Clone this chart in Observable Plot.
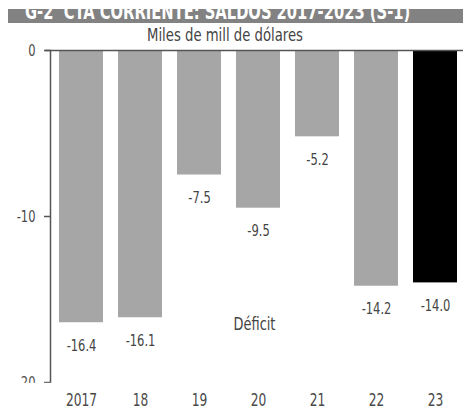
<!DOCTYPE html>
<html>
<head>
<meta charset="utf-8">
<script src="https://cdn.jsdelivr.net/npm/d3@7"></script>
<script src="https://cdn.jsdelivr.net/npm/@observablehq/plot@0.6"></script>
<style>
  html, body { margin: 0; padding: 0; background: #fff; }
  body { width: 463px; height: 410px; overflow: hidden; font-family: 'Liberation Sans Narrow', 'DejaVu Sans Condensed', sans-serif; }
  #hdr { position: relative; height: 44px; }
  #band { position: absolute; left: 8px; top: 9px; width: 455px; height: 14px; background: #828282; overflow: hidden; }
  #title { position: absolute; left: 17px; top: -7px; font-weight: bold; font-size: 21px; line-height: 21px; color: #fff; white-space: nowrap; transform-origin: 0 0; }
  #sub { position: absolute; top: 26px; font-size: 18px; line-height: 17px; color: #444; white-space: nowrap; transform-origin: 0 0; }
</style>
</head>
<body>
<div id="hdr">
  <div id="band"><span id="title">G-2&nbsp;&nbsp;CTA CORRIENTE: SALDOS 2017-2023 (S-1)</span></div>
  <div id="sub">Miles de mill de dólares</div>
</div>
<div id="chart"></div>
<script>
const years = ["2017", "18", "19", "20", "21", "22", "23"];
const values = [-16.4, -16.1, -7.5, -9.5, -5.2, -14.2, -14.0];
const valueLabels = ["-16.4", "-16.1", "-7.5", "-9.5", "-5.2", "-14.2", "-14.0"];
const yTicks = [0, -10, -20];
const highlightYear = "23";
const noteText = "Déficit";
const noteYear = "20";
const noteValue = -16.5;

const data = years.map((year, i) => ({year, value: values[i], label: valueLabels[i]}));

// fit header texts to the narrow widths of the reference
const title = document.getElementById("title");
title.style.transform = `scaleX(${385 / title.offsetWidth})`;
const sub = document.getElementById("sub");
const subScale = 156 / sub.offsetWidth;
sub.style.transform = `scaleX(${subScale})`;
sub.style.left = (225 - 78) + "px";

const chart = Plot.plot({
  width: 463,
  height: 366,
  marginLeft: 50,
  marginRight: 0,
  marginTop: 6,
  marginBottom: 28,
  style: {fontFamily: "'Liberation Sans Narrow', 'DejaVu Sans Condensed', sans-serif", color: "#4a4a4a", background: "#fff", overflow: "visible"},
  x: {domain: years, range: [50, 467], paddingInner: 0.246, paddingOuter: 0.117, align: 0.5},
  y: {domain: [-20, 0]},
  color: {type: "identity"},
  marks: [
    Plot.barY(data, {x: "year", y: "value", fill: d => d.year === highlightYear ? "#000000" : "#a6a6a6"}),
    Plot.ruleY([0], {stroke: "#555", strokeWidth: 1.5, insetLeft: -5}),
    Plot.frame({anchor: "left", stroke: "#555", strokeWidth: 1.5}),
    Plot.axisY({ticks: yTicks, tickSize: 6, tickPadding: 9, fontSize: 16, tickFormat: d => String(d), label: null, stroke: "#555", strokeWidth: 1.5}),
    Plot.rect([{}], {y1: -20.05, y2: -21.5, fill: "#fff", insetLeft: -50}),
    Plot.axisX({tickSize: 0, tickPadding: 11, fontSize: 17, label: null}),
    Plot.text(data, {x: "year", y: "value", text: "label", dy: 23, fontSize: 16, fill: "#444"}),
    Plot.text([noteText], {x: () => noteYear, y: () => noteValue, text: d => d, dx: -4, fontSize: 18, fill: "#444"})
  ]
});
document.getElementById("chart").appendChild(chart);

// condense SVG texts horizontally around their anchor points
chart.querySelectorAll("text").forEach(t => {
  const tr = t.getAttribute("transform");
  if (tr) {
    t.setAttribute("transform", tr + " scale(0.8,1)");
  } else {
    const x = t.getAttribute("x") || 0, y = t.getAttribute("y") || 0;
    t.removeAttribute("x"); t.removeAttribute("y");
    t.setAttribute("transform", `translate(${x},${y}) scale(0.8,1)`);
  }
});
</script>
</body>
</html>
